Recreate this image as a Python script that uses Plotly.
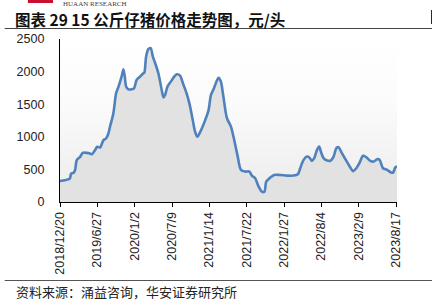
import plotly.graph_objects as go
import pandas as pd

start_date = "2018-12-20"
# week offsets from the start date and price (yuan/head)
weeks = [0, 3.6, 4.8, 7.2, 8.0, 9.7, 10.9, 12.1, 14.5, 16.4, 19.3, 21.7, 23.2, 25.3, 27.0,
         29.0, 31.4, 33.3, 35.0, 36.2, 38.6, 40.5, 42.2, 43.9, 44.9, 45.8, 46.8, 47.8, 49.4,
         51.9, 53.6, 55.5, 57.9, 60.3, 61.0, 62.3, 63.9, 65.6, 67.1, 68.8, 71.2, 73.6, 74.8,
         76.0, 77.7, 80.1, 82.5, 84.4, 86.9, 88.8, 91.2, 93.6, 96.0, 97.7, 99.4, 100.9, 102.6,
         105.0, 107.4, 109.1, 111.0, 112.2, 114.6, 116.3, 118.2, 120.7, 123.6, 125.4, 128.3,
         130.8, 133.9, 137.0, 138.8, 141.2, 143.5, 146.0, 147.9, 149.1, 152.0, 154.9, 159.2,
         164.1, 168.9, 172.0, 173.7, 176.1, 178.6, 180.2, 182.2, 183.9, 185.8, 187.5, 188.9,
         190.6, 193.1, 195.9, 197.8, 199.8, 201.4, 203.9, 207.5, 209.9, 211.8, 214.3, 216.7,
         219.1, 221.5, 224.4, 226.8, 229.3, 231.1, 233.6, 236.5, 239.4, 240.8, 242.5, 243.7]
prices = [323, 333, 343, 359, 436, 446, 487, 641, 692, 754, 754, 744, 733, 795, 846,
          836, 949, 974, 1051, 1154, 1359, 1667, 1759, 1872, 1949, 2036, 1923, 1769, 1728,
          1728, 1744, 1872, 1923, 1974, 1985, 2231, 2344, 2359, 2231, 2128, 1974, 1718, 1605,
          1641, 1769, 1846, 1923, 1959, 1938, 1821, 1692, 1513, 1256, 1077, 1000, 1051, 1128,
          1256, 1410, 1641, 1728, 1790, 1905, 1851, 1620, 1287, 1159, 1005, 723,
          492, 467, 467, 400, 364, 246, 159, 159, 313, 374, 415, 415,
          405, 405, 426, 518, 646, 697, 687, 631, 672, 800, 851, 759,
          672, 636, 636, 697, 826, 841, 749, 620, 533, 472, 518, 605,
          708, 687, 631, 620, 656, 646, 518, 492, 451, 451, 533, 544]

tick_labels = ["2018/12/20", "2019/6/27", "2020/1/2", "2020/7/9", "2021/1/14",
               "2021/7/22", "2022/1/27", "2022/8/4", "2023/2/9", "2023/8/17"]
y_ticks = [0, 500, 1000, 1500, 2000, 2500]

t0 = pd.Timestamp(start_date)
dates = [t0 + pd.Timedelta(days=round(w * 7)) for w in weeks]
tick_dates = [pd.Timestamp(s.replace("/", "-")) for s in tick_labels]

fig = go.Figure()
# gradient background of plot area
fig.add_trace(go.Scatter(
    x=[dates[0], dates[-1]], y=[y_ticks[-1], y_ticks[-1]],
    mode="lines", line=dict(width=0), fill="tozeroy",
    fillgradient=dict(type="vertical", colorscale=[[0, "#ebebeb"], [0.6, "#fbfbfb"], [1, "#ffffff"]]),
    hoverinfo="skip", showlegend=False))
fig.add_trace(go.Scatter(
    x=dates, y=prices, mode="lines",
    line=dict(color="#4f81bd", width=2.6, shape="spline", smoothing=0.8),
    fill="tozeroy", fillcolor="#e2e2e2", showlegend=False))

fig.update_layout(
    width=432, height=304,
    margin=dict(l=60, r=35, t=39, b=102),
    paper_bgcolor="white", plot_bgcolor="white",
    font=dict(family="Liberation Sans, Arial, sans-serif", color="#222"),
    xaxis=dict(
        range=[dates[0], dates[-1]], tickmode="array", tickvals=tick_dates, ticktext=tick_labels,
        tickangle=-90, tickfont=dict(size=12.5, color="#222"), ticks="outside", ticklen=4,
        tickcolor="#000", showline=True, linecolor="#000", linewidth=1.2, showgrid=False,
        zeroline=False),
    yaxis=dict(
        range=[0, 2500], tickmode="array", tickvals=y_ticks, ticks="", showline=True,
        linecolor="#000", linewidth=1.2, showgrid=False, zeroline=False,
        tickfont=dict(size=12.5, color="#222"), ticklabelstandoff=12),
    shapes=[
        dict(type="line", xref="paper", yref="paper", x0=-0.164, x1=1.12,
             y0=(304 - 102 - 28.5) / 163, y1=(304 - 102 - 28.5) / 163,
             line=dict(color="#444", width=1)),
        dict(type="line", xref="paper", yref="paper", x0=-0.164, x1=1.12,
             y0=(304 - 102 - 280.5) / 163, y1=(304 - 102 - 280.5) / 163,
             line=dict(color="#555", width=1)),
        dict(type="rect", xref="paper", yref="paper", x0=(28 - 60) / 336, x1=(53 - 60) / 336,
             y0=(202 - 3) / 163, y1=(202 + 2) / 163, fillcolor="#c8102e", line=dict(width=0)),
        dict(type="rect", xref="paper", yref="paper", x0=(430 - 60) / 336, x1=(433 - 60) / 336,
             y0=(202 - 24) / 163, y1=(202 - 10) / 163, fillcolor="#111", line=dict(width=0)),
    ],
    annotations=[
        dict(text="<b>图表 29 15 公斤仔猪价格走势图，元/头</b>", xref="paper", yref="paper",
             x=(14 - 60) / 336, y=(202 - 18.5) / 163, xanchor="left", yanchor="middle",
             showarrow=False, borderpad=0,
             font=dict(family="Noto Sans CJK SC", size=15.5, color="#111")),
        dict(text="HUAAN RESEARCH", xref="paper", yref="paper",
             x=(62 - 60) / 336, y=(202 + 1) / 163, xanchor="left", yanchor="top",
             showarrow=False, borderpad=0,
             font=dict(family="Liberation Serif", size=7, color="#4a3a3a")),
        dict(text="资料来源：涌益咨询，华安证券研究所", xref="paper", yref="paper",
             x=(14 - 60) / 336, y=(202 - 291) / 163, xanchor="left", yanchor="middle",
             showarrow=False, font=dict(family="Noto Sans CJK SC", size=13, color="#222")),
    ],
)

fig.write_html("out.html")
